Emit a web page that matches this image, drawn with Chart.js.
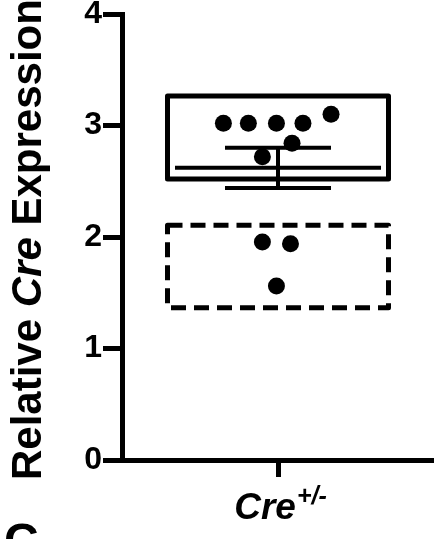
<!DOCTYPE html>
<html>
<head>
<meta charset="utf-8">
<script src="https://cdn.jsdelivr.net/npm/chart.js@4"></script>
<style>
  html, body { margin: 0; padding: 0; background: #fff; }
  #wrap { width: 434px; height: 539px; position: relative; }
</style>
</head>
<body>
<div id="wrap"><canvas id="creChart"></canvas></div>
<script>
// --- Data ---
const categories = ['Cre'];
const yTicks = [0, 1, 2, 3, 4];

// dots inside the solid box
const groupA = [3.02, 3.02, 3.02, 3.02, 3.10, 2.84, 2.72];
const jitterA = [-0.35, -0.19, -0.01, 0.16, 0.34, 0.09, -0.10];
// dots inside the dashed box
const groupB = [1.955, 1.94, 1.56];
const jitterB = [-0.10, 0.08, -0.01];

const boxSolid = [2.52, 3.265];
const boxDashed = [1.365, 2.105];
const meanA = 2.62;
const errA = [2.44, 2.80];

const FONT = "'Liberation Sans', Arial, sans-serif";

// boxes, mean line and error bar, drawn through the scales
const boxPlugin = {
    id: 'boxes',
    beforeDatasetsDraw(chart) {
        const { ctx, scales: { x, y } } = chart;
        const cx = x.getPixelForValue(0);
        const boxHalf = 110.5, meanHalf = 103, capHalf = 53;
        ctx.save();
        ctx.strokeStyle = '#000';
        ctx.lineJoin = 'round';

        // solid box
        ctx.lineWidth = 5;
        let top = y.getPixelForValue(boxSolid[1]);
        let bot = y.getPixelForValue(boxSolid[0]);
        ctx.strokeRect(cx - boxHalf, top, boxHalf * 2, bot - top);

        // dashed box
        top = y.getPixelForValue(boxDashed[1]);
        bot = y.getPixelForValue(boxDashed[0]);
        ctx.setLineDash([15, 8]);
        ctx.beginPath();
        ctx.moveTo(cx - boxHalf, top);
        ctx.lineTo(cx + boxHalf, top);
        ctx.lineTo(cx + boxHalf, bot);
        ctx.lineTo(cx - boxHalf, bot);
        ctx.closePath();
        ctx.stroke();
        ctx.setLineDash([]);

        // mean + error bar
        ctx.lineWidth = 4;
        const ym = y.getPixelForValue(meanA);
        const yHi = y.getPixelForValue(errA[1]);
        const yLo = y.getPixelForValue(errA[0]);
        ctx.beginPath();
        ctx.moveTo(cx - meanHalf, ym); ctx.lineTo(cx + meanHalf, ym);
        ctx.moveTo(cx - capHalf, yHi); ctx.lineTo(cx + capHalf, yHi);
        ctx.moveTo(cx - capHalf, yLo); ctx.lineTo(cx + capHalf, yLo);
        ctx.moveTo(cx, yHi); ctx.lineTo(cx, yLo);
        ctx.stroke();
        ctx.restore();
    },
    afterDraw(chart) {
        const { ctx, scales: { x } } = chart;
        ctx.save();
        ctx.fillStyle = '#000';
        ctx.textBaseline = 'alphabetic';
        ctx.textAlign = 'left';

        // y-axis title, rotated, with italic "Cre"
        const parts = [
            ['Relative ', 'bold 42px ' + FONT],
            ['Cre', 'italic bold 42px ' + FONT],
            [' Expression', 'bold 42px ' + FONT]
        ];
        ctx.translate(41, 480);
        ctx.rotate(-Math.PI / 2);
        let pos = 0;
        parts.forEach(([txt, font]) => {
            ctx.font = font;
            ctx.fillText(txt, pos, 0);
            pos += ctx.measureText(txt).width;
        });
        ctx.setTransform(1, 0, 0, 1, 0, 0);

        // x category label: Cre with superscript +/-
        const main = categories[0];
        const sup = '+/-';
        const mainFont = 'italic bold 37px ' + FONT;
        const supFont = 'italic bold 25px ' + FONT;
        ctx.font = mainFont;
        const wMain = ctx.measureText(main).width;
        ctx.font = supFont;
        const wSup = ctx.measureText(sup).width;
        const startX = x.getPixelForValue(0) + 2 - (wMain + wSup) / 2;
        ctx.font = mainFont;
        ctx.fillText(main, startX, 519);
        ctx.font = supFont;
        ctx.fillText(sup, startX + wMain + 1, 504);

        // panel letter peeking in at bottom-left
        ctx.font = 'bold 48px ' + FONT;
        ctx.fillText('C', 4, 557);
        ctx.restore();
    }
};

const ctx = document.getElementById('creChart');
new Chart(ctx, {
    type: 'scatter',
    data: {
        datasets: [
            {
                data: groupA.map((v, i) => ({ x: jitterA[i], y: v })),
                backgroundColor: '#000',
                borderWidth: 0,
                pointRadius: 8.5,
                pointHoverRadius: 8.5
            },
            {
                data: groupB.map((v, i) => ({ x: jitterB[i], y: v })),
                backgroundColor: '#000',
                borderWidth: 0,
                pointRadius: 8.5,
                pointHoverRadius: 8.5
            }
        ]
    },
    options: {
        responsive: true,
        maintainAspectRatio: false,
        animation: false,
        layout: { autoPadding: false, padding: { top: 14, right: 0, left: 0, bottom: 0 } },
        plugins: { legend: { display: false }, tooltip: { enabled: false } },
        scales: {
            x: {
                type: 'linear',
                min: -1,
                max: 1,
                afterBuildTicks: (scale) => { scale.ticks = [{ value: 0 }]; },
                afterFit: (scale) => { scale.height = 79; scale.paddingLeft = 0; scale.paddingRight = 0; },
                ticks: { display: false },
                grid: { drawOnChartArea: false, drawTicks: true, tickLength: 17, lineWidth: 5, tickWidth: 5, color: '#000', tickColor: '#000' },
                border: { color: '#000', width: 5 }
            },
            y: {
                type: 'linear',
                min: yTicks[0],
                max: yTicks[yTicks.length - 1],
                afterBuildTicks: (scale) => { scale.ticks = yTicks.map(v => ({ value: v })); },
                afterFit: (scale) => { scale.width = 122; scale.paddingTop = 0; scale.paddingBottom = 0; },
                ticks: { color: '#000', padding: 1, font: { family: FONT, size: 32, weight: 'bold' } },
                grid: { drawOnChartArea: false, drawTicks: true, tickLength: 19, lineWidth: 5, tickWidth: 5, color: '#000', tickColor: '#000' },
                border: { color: '#000', width: 5 }
            }
        }
    },
    plugins: [boxPlugin]
});
</script>
</body>
</html>
